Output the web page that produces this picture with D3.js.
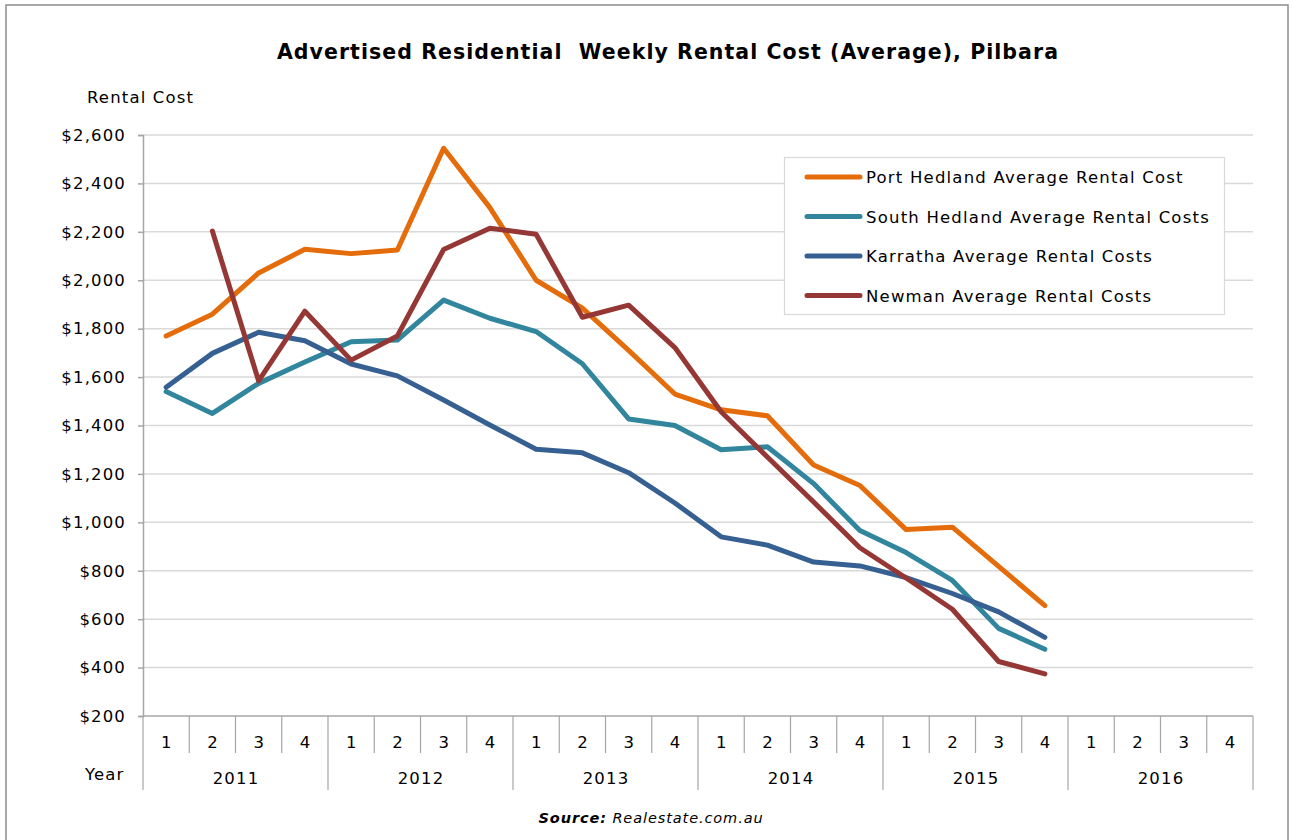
<!DOCTYPE html>
<html>
<head>
<meta charset="utf-8">
<script src="https://cdn.jsdelivr.net/npm/d3@7"></script>
<style>
  body { margin: 0; background: #fff; }
  svg { font-family: "DejaVu Sans", Verdana, sans-serif; }
</style>
</head>
<body>
<svg id="chart" width="1292" height="840"></svg>
<script>
const years = ["2011", "2012", "2013", "2014", "2015", "2016"]
const quarters = ["1", "2", "3", "4"]
const seriesNames = ["Port Hedland Average Rental Cost", "South Hedland Average Rental Costs", "Karratha Average Rental Costs", "Newman Average Rental Costs"]
const seriesColors = ["#E46C0A", "#31859C", "#376092", "#953735"]

// quarterly values, 2011 Q1 .. 2015 Q4
const portHedland = [1770, 1860, 2030, 2128, 2110, 2125, 2545, 2300, 2000, 1885, 1710, 1530, 1465, 1440, 1237, 1152, 970, 980, 818, 656]
const southHedland = [1540, 1450, 1574, 1662, 1746, 1753, 1918, 1843, 1788, 1655, 1427, 1400, 1300, 1312, 1160, 966, 875, 760, 562, 476]
const karratha = [1558, 1698, 1785, 1750, 1654, 1605, 1505, 1402, 1302, 1287, 1205, 1080, 940, 906, 836, 820, 772, 706, 630, 525]
const newman = [null, 2203, 1584, 1872, 1670, 1770, 2127, 2215, 2190, 1847, 1897, 1722, 1457, 1270, 1084, 895, 770, 641, 425, 374]

const yTicks = [200, 400, 600, 800, 1000, 1200, 1400, 1600, 1800, 2000, 2200, 2400, 2600]

const svg = d3.select("#chart")
const fs = 16.5, ls = 1.15

// outer frame
svg.append("rect")
    .attr("x", 6).attr("y", 5)
    .attr("width", 1282).attr("height", 850)
    .attr("fill", "none")
    .attr("stroke", "#8c8c8c")
    .attr("stroke-width", 1.5)

const plotLeft = 143, plotRight = 1253, plotTop = 135, plotBottom = 716

const keys = []
years.forEach(y => quarters.forEach(q => keys.push(y + "-" + q)))

const x = d3.scaleBand().domain(keys).range([plotLeft, plotRight])
const xYear = d3.scaleBand().domain(years).range([plotLeft, plotRight])
const y = d3.scaleLinear().domain([200, 2600]).range([plotBottom, plotTop])

// title
svg.append("text")
    .attr("x", 668).attr("y", 59)
    .attr("text-anchor", "middle")
    .attr("font-size", 20.5)
    .attr("font-weight", "bold")
    .attr("letter-spacing", 1.05)
    .attr("fill", "#000")
    .attr("xml:space", "preserve")
    .text("Advertised Residential  Weekly Rental Cost (Average), Pilbara")

svg.append("text")
    .attr("x", 87).attr("y", 103)
    .attr("font-size", fs)
    .attr("letter-spacing", ls)
    .attr("fill", "#000")
    .text("Rental Cost")

// gridlines
svg.append("g")
    .selectAll("line")
    .data(yTicks.slice(1))
    .enter()
    .append("line")
        .attr("x1", plotLeft).attr("x2", plotRight)
        .attr("y1", d => y(d)).attr("y2", d => y(d))
        .attr("stroke", "#d9d9d9")
        .attr("stroke-width", 1.5)

// y axis
const yAxis = svg.append("g")
    .attr("transform", "translate(" + plotLeft + ",0)")
    .call(d3.axisLeft(y).tickValues(yTicks).tickSize(5).tickPadding(12)
        .tickFormat(d => "$" + d3.format(",")(d)))
yAxis.select(".domain").attr("stroke", "#a6a6a6").attr("stroke-width", 1.5)
yAxis.selectAll(".tick line").attr("stroke", "#a6a6a6").attr("stroke-width", 1.5)
yAxis.selectAll(".tick text")
    .attr("font-size", fs)
    .attr("letter-spacing", ls)
    .attr("font-family", "DejaVu Sans, Verdana, sans-serif")
    .attr("fill", "#000")

// x axis: baseline, quarter dividers, year dividers
const xg = svg.append("g")
xg.append("line")
    .attr("x1", plotLeft).attr("x2", plotRight)
    .attr("y1", plotBottom).attr("y2", plotBottom)
    .attr("stroke", "#a6a6a6").attr("stroke-width", 1.5)

xg.selectAll(".qdiv")
    .data(keys.filter(k => !k.endsWith("-1")))
    .enter()
    .append("line")
        .attr("class", "qdiv")
        .attr("x1", d => x(d)).attr("x2", d => x(d))
        .attr("y1", plotBottom).attr("y2", 753)
        .attr("stroke", "#a6a6a6").attr("stroke-width", 1.2)

xg.selectAll(".ydiv")
    .data(years.concat(["end"]))
    .enter()
    .append("line")
        .attr("class", "ydiv")
        .attr("x1", d => d == "end" ? plotRight : xYear(d))
        .attr("x2", d => d == "end" ? plotRight : xYear(d))
        .attr("y1", plotBottom).attr("y2", 790)
        .attr("stroke", "#a6a6a6").attr("stroke-width", 1.2)

xg.selectAll(".qlabel")
    .data(keys)
    .enter()
    .append("text")
        .attr("class", "qlabel")
        .attr("x", d => x(d) + x.bandwidth() / 2)
        .attr("y", 748)
        .attr("text-anchor", "middle")
        .attr("font-size", fs)
        .attr("fill", "#000")
        .text(d => d.split("-")[1])

xg.selectAll(".ylabel")
    .data(years)
    .enter()
    .append("text")
        .attr("class", "ylabel")
        .attr("x", d => xYear(d) + xYear.bandwidth() / 2 + 0.5)
        .attr("y", 784)
        .attr("text-anchor", "middle")
        .attr("font-size", fs)
        .attr("letter-spacing", ls)
        .attr("fill", "#000")
        .text(d => d)

svg.append("text")
    .attr("x", 85).attr("y", 780)
    .attr("font-size", fs)
    .attr("letter-spacing", ls)
    .attr("fill", "#000")
    .text("Year")

// series lines
const series = [portHedland, southHedland, karratha, newman]
const line = d3.line()
    .defined(d => d.v != null)
    .x(d => x(d.k) + x.bandwidth() / 2)
    .y(d => y(d.v))

series.forEach((vals, i) => {
    const pts = vals.map((v, j) => ({k: keys[j], v: v}))
    svg.append("path")
        .datum(pts)
        .attr("d", line)
        .attr("fill", "none")
        .attr("stroke", seriesColors[i])
        .attr("stroke-width", 5)
        .attr("stroke-linejoin", "round")
        .attr("stroke-linecap", "round")
})

// legend
const legend = svg.append("g")
legend.append("rect")
    .attr("x", 784.5).attr("y", 157.5)
    .attr("width", 440).attr("height", 157)
    .attr("fill", "#fff")
    .attr("stroke", "#d9d9d9")
    .attr("stroke-width", 1.2)

const item = legend.selectAll(".item")
    .data(seriesNames)
    .enter()
    .append("g")
        .attr("class", "item")
        .attr("transform", (d, i) => "translate(0," + (177 + i * 39.5) + ")")
item.append("line")
    .attr("x1", 807).attr("x2", 860)
    .attr("stroke", (d, i) => seriesColors[i])
    .attr("stroke-width", 5)
    .attr("stroke-linecap", "round")
item.append("text")
    .attr("x", 866).attr("y", 6)
    .attr("font-size", fs)
    .attr("letter-spacing", 1.2)
    .attr("fill", "#000")
    .text(d => d)

// source
const src = svg.append("text")
    .attr("x", 651).attr("y", 823)
    .attr("text-anchor", "middle")
    .attr("font-size", 14.5)
    .attr("font-style", "italic")
    .attr("letter-spacing", 0.9)
    .attr("fill", "#000")
src.append("tspan").attr("font-weight", "bold").text("Source:")
src.append("tspan").text(" Realestate.com.au")
</script>
</body>
</html>
